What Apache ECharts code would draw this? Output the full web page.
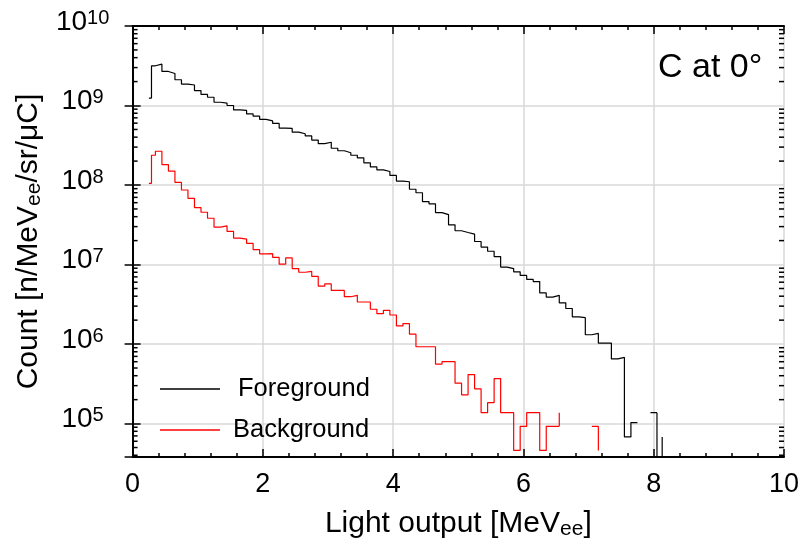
<!DOCTYPE html>
<html><head><meta charset="utf-8">
<script src="https://cdn.jsdelivr.net/npm/echarts@6/dist/echarts.min.js"></script>
<style>html,body{margin:0;padding:0;background:#fff}#c{width:804px;height:549px}</style>
</head><body><div id="c"></div>
<script>
// ---- data (bin edges: two short leading bins, then 0.1 MeVee bins from 0.35) ----
const FONT = '"Liberation Sans", Arial, Helvetica, sans-serif';
const seriesNames = ['Foreground', 'Background'];
const fgValues = [
  1.24e9, 3.16e9,
  3.31e9, 2.68e9, 2.53e9, 2.11e9, 1.86e9, 1.81e9, 1.54e9, 1.38e9, 1.27e9, 1.10e9,
  1.07e9, 1.0e9, 8.8e8, 8.7e8, 7.85e8, 7.35e8, 6.7e8, 6.4e8, 5.96e8, 5.2e8,
  5.15e8, 4.63e8, 4.42e8, 4.15e8, 3.68e8, 3.31e8, 3.45e8, 2.9e8, 2.7e8, 2.55e8,
  2.37e8, 2.2e8, 1.9e8, 1.69e8, 1.55e8, 1.48e8, 1.32e8, 1.12e8, 1.10e8, 8.85e7,
  8.0e7, 6.2e7, 5.8e7, 4.5e7, 4.25e7, 3.16e7, 2.66e7, 2.53e7, 2.41e7, 1.95e7,
  1.66e7, 1.47e7, 1.26e7, 9.3e6, 8.9e6, 8.1e6, 7.3e6, 6.5e6, 6.1e6, 4.4e6,
  3.9e6, 4.1e6, 3.3e6, 2.8e6, 2.2e6, 2.15e6, 1.31e6, 1.36e6, 1.03e6, 1.03e6,
  6.5e5, 6.8e5, 6.8e4, 1.03e5, null, null, 1.37e5
];
const bgValues = [
  1.05e8, 2.37e8,
  2.66e8, 1.81e8, 1.50e8, 1.08e8, 8.66e7, 6.8e7, 5.2e7, 4.55e7, 3.82e7, 2.95e7,
  3.07e7, 2.61e7, 2.15e7, 2.09e7, 1.85e7, 1.54e7, 1.36e7, 1.37e7, 1.23e7, 1.01e7,
  1.21e7, 8.9e6, 8.0e6, 8.2e6, 7.1e6, 5.36e6, 5.7e6, 4.73e6, 4.73e6, 3.94e6,
  4.1e6, 3.38e6, 3.38e6, 2.74e6, 2.41e6, 2.66e6, 2.32e6, 1.69e6, 1.81e6, 1.33e6,
  9.25e5, 9.25e5, 9.25e5, 5.6e5, 6.0e5, 6.0e5, 3.22e5, 2.3e5, 4.13e5, 2.74e5,
  1.37e5, 1.83e5, 3.68e5, 1.37e5, 1.37e5, 4.6e4, 9.25e4, 1.37e5, 1.37e5, 4.6e4,
  9.25e4, 9.25e4, null, null, null, null, null, 9.25e4
];
// isolated vertical pieces at bin edges: [edge, value reached]
const EMPTY = 1e4; // empty bin (drawn below the axis range)
const fgStubs = [[8.05, EMPTY], [8.13, 6.8e4]];
const bgStubs = [[6.55, 1.37e5], [7.15, 4.6e4]];
const yDecades = [5, 6, 7, 8, 9, 10];
const Y_MIN = 38000, Y_MAX = 1e10, X_MIN = 0, X_MAX = 10;

function makeEdges(nBins) {
  const e = [0.25, 0.29];
  for (let i = 0; i < nBins - 1; i++) e.push(+(0.35 + 0.1 * i).toFixed(2));
  return e;
}
function steps(values, stubs) {
  const edges = makeEdges(values.length);
  const pts = [];
  for (let i = 0; i < values.length; i++) {
    const v = values[i];
    if (v == null) { pts.push([edges[i], '-']); continue; }
    pts.push([edges[i], v], [edges[i + 1], v]);
  }
  stubs.forEach(([x, to]) => {
    let from = EMPTY;
    for (let i = 0; i < values.length; i++) {
      if (Math.abs(edges[i + 1] - x) < 1e-6 && values[i] != null) from = values[i];
    }
    pts.push([x, '-'], [x, from], [x, to]);
  });
  return pts;
}
// log minor tick positions (2..9 x decade)
const minorVals = [];
for (let d = 4; d < 10; d++) for (let m = 2; m <= 9; m++) {
  const v = m * Math.pow(10, d);
  if (v > Y_MIN && v < Y_MAX) minorVals.push(v);
}

const chart = echarts.init(document.getElementById('c'), null, {renderer: 'canvas'});
const axisLineStyle = {color: '#000', width: 2};
const tickLine = {color: '#000', width: 1.5};
const titleRich = {
  t: {fontFamily: FONT, fontSize: 30, color: '#000', verticalAlign: 'top', lineHeight: 31},
  s: {fontFamily: FONT, fontSize: 21, color: '#000', verticalAlign: 'bottom', lineHeight: 21, padding: [16, 0, 0, 0]}
};
chart.setOption({
  animation: false,
  backgroundColor: '#fff',
  title: {
    text: 'C at 0°', left: 658, top: 51, padding: 0,
    textStyle: {fontFamily: FONT, fontSize: 34, fontWeight: 'normal', color: '#000'}
  },
  legend: {
    data: seriesNames, orient: 'vertical', left: 155, top: 371, itemGap: 15,
    icon: 'rect', itemWidth: 60, itemHeight: 1.3,
    formatter: n => n === 'Foreground' ? '{f|' + n + '}' : '{b|' + n + '}',
    textStyle: {
      fontFamily: FONT, fontSize: 25.5, color: '#000', lineHeight: 26,
      rich: {f: {fontFamily: FONT, fontSize: 25.5, padding: [0, 0, 0, 13]},
             b: {fontFamily: FONT, fontSize: 25.5, padding: [0, 0, 0, 8]}}
    }
  },
  grid: {left: 125, right: 20, top: 23, bottom: 92},
  xAxis: [{
    type: 'value', min: X_MIN, max: X_MAX, interval: 2,
    name: '{t|Light output [MeV}{s|ee}{t|]}', nameLocation: 'middle', nameGap: 45,
    nameTextStyle: {rich: titleRich},
    axisLine: {lineStyle: axisLineStyle},
    axisTick: {inside: true, length: 8, lineStyle: tickLine},
    minorTick: {show: true, splitNumber: 5, length: 4, lineStyle: tickLine},
    axisLabel: {fontFamily: FONT, fontSize: 27, color: '#000', margin: 14},
    splitLine: {show: true, lineStyle: {color: '#d9d9d9', width: 1.5}}
  }, {
    type: 'value', min: X_MIN, max: X_MAX, interval: 2, position: 'top',
    axisLine: {lineStyle: axisLineStyle},
    axisTick: {inside: true, length: 8, lineStyle: tickLine},
    minorTick: {show: true, splitNumber: 5, length: 4, lineStyle: tickLine},
    axisLabel: {show: false}, splitLine: {show: false}
  }],
  yAxis: [{
    type: 'log', logBase: 10, min: Y_MIN, max: Y_MAX,
    name: '{t|Count [n/MeV}{s|ee}{t|/sr/μC]}', nameLocation: 'middle', nameGap: 86, nameRotate: 90,
    nameTextStyle: {rich: titleRich},
    axisLine: {lineStyle: axisLineStyle},
    axisTick: {inside: true, length: 8, lineStyle: tickLine},
    axisLabel: {
      margin: 50, align: 'center', padding: [0, 0, 8, 0],
      formatter: v => {
        const e = Math.round(Math.log10(v));
        if (Math.abs(Math.log10(v) - e) > 1e-6 || yDecades.indexOf(e) < 0) return '';
        return '{b|10}{s|' + e + '}';
      },
      rich: {
        b: {fontFamily: FONT, fontSize: 28, color: '#000', verticalAlign: 'bottom', lineHeight: 28, padding: [8, 0, 0, 0]},
        s: {fontFamily: FONT, fontSize: 20, color: '#000', verticalAlign: 'top', lineHeight: 20}
      }
    },
    splitLine: {show: true, lineStyle: {color: '#d9d9d9', width: 1.5}}
  }, {
    type: 'log', logBase: 10, min: Y_MIN, max: Y_MAX, position: 'right',
    axisLine: {lineStyle: axisLineStyle},
    axisTick: {inside: true, length: 8, lineStyle: tickLine},
    axisLabel: {show: false}, splitLine: {show: false}
  }],
  series: [{
    name: 'Foreground', type: 'line', data: steps(fgValues, fgStubs),
    showSymbol: false, symbol: 'none', clip: true, connectNulls: false,
    lineStyle: {color: '#000', width: 1.2}, itemStyle: {color: '#000'}, z: 4
  }, {
    name: 'Background', type: 'line', data: steps(bgValues, bgStubs),
    showSymbol: false, symbol: 'none', clip: true, connectNulls: false,
    lineStyle: {color: '#ff0000', width: 1.2}, itemStyle: {color: '#ff0000'}, z: 3
  }]
});
// log minor ticks on left and right frame, placed through the chart's own y scale
const tickEls = [];
minorVals.forEach(v => {
  const l = chart.convertToPixel({xAxisIndex: 0, yAxisIndex: 0}, [X_MIN, v]);
  const r = chart.convertToPixel({xAxisIndex: 0, yAxisIndex: 0}, [X_MAX, v]);
  if (!l || !r) return;
  tickEls.push({type: 'line', silent: true, z: 10,
    shape: {x1: l[0], y1: l[1], x2: l[0] + 5, y2: l[1]}, style: {stroke: '#000', lineWidth: 1.5}});
  tickEls.push({type: 'line', silent: true, z: 10,
    shape: {x1: r[0], y1: r[1], x2: r[0] - 5, y2: r[1]}, style: {stroke: '#000', lineWidth: 1.5}});
});
chart.setOption({graphic: {elements: tickEls}});
</script></body></html>
